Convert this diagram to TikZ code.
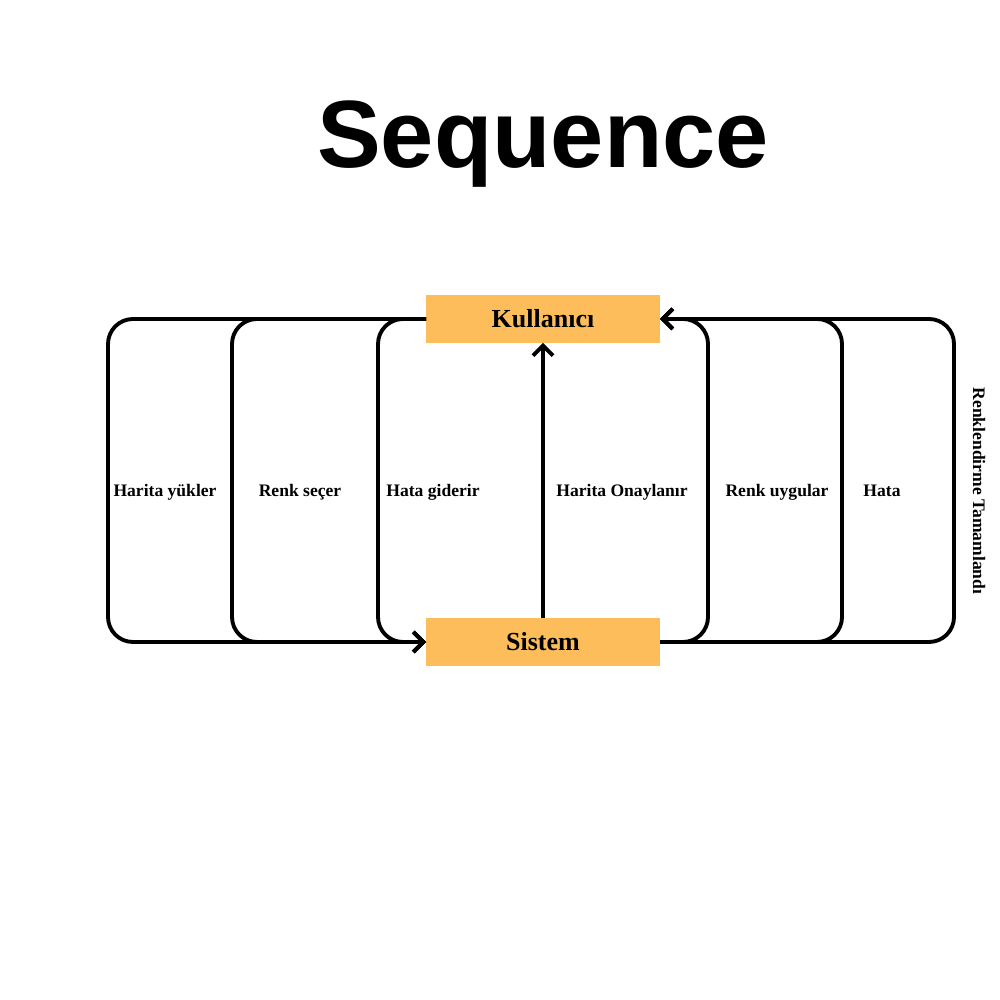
\documentclass[tikz,border=0pt]{standalone}
\usepackage{fontspec}
\setmainfont{Liberation Serif}
\newfontfamily\titlefont{Liberation Sans}
\usetikzlibrary{positioning,arrows.meta}
\definecolor{actorOrange}{HTML}{FDBD5B}
\tikzset{
  actor/.style={fill=actorOrange, font=\fontsize{7.4}{9}\selectfont\bfseries,
                minimum width=23.4mm, minimum height=4.8mm, inner sep=0pt, outer sep=0pt},
  flow/.style={-{Straight Barb[length=1mm,width=2mm]}, line width=1.1pt, rounded corners=2.5mm},
  lbl/.style={font=\fontsize{5}{6}\selectfont\bfseries, anchor=base},
}

\begin{document}
\begin{tikzpicture}
  \useasboundingbox (0,0) rectangle (10,10);
  \node[font=\titlefont\fontsize{27.2}{30}\selectfont\bfseries, anchor=base] (title) at (5.43,8.32) {Sequence};

  \node[actor] (kul) at (5.43,6.81) {Kullanıcı};
  \node[actor, below=27.5mm of kul] (sis) {Sistem};

  % istek donguleri
  \foreach \x in {1.08,2.32,3.78}
    \draw[flow] (kul.west) -| (\x,3.58) -- (sis.west);
  % yanit donguleri
  \foreach \x in {9.54,8.42,7.08}
    \draw[flow] (sis.east) -| (\x,6.81) -- (kul.east);
  \draw[flow] (sis.north) -- (kul.south);

  \node[lbl] (l1) at (1.65,5.03) {Harita yükler};
  \node[lbl] (l2) at (3.00,5.03) {Renk seçer};
  \node[lbl] (l3) at (4.33,5.03) {Hata giderir};
  \node[lbl] (l4) at (6.22,5.03) {Harita Onaylanır};
  \node[lbl] (l5) at (7.77,5.03) {Renk uygular};
  \node[lbl] (l6) at (8.82,5.03) {Hata};
  \node[lbl, anchor=center, rotate=-90] (l7) at (9.79,5.09) {Renklendirme Tamamlandı};
\end{tikzpicture}
\end{document}
